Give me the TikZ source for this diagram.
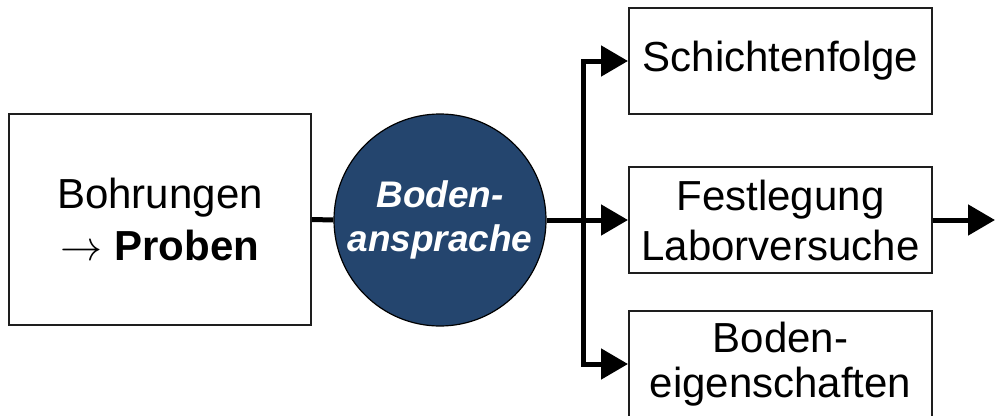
\documentclass[tikz,border=0pt]{standalone}
\usepackage{fix-cm}
\usepackage{fontspec}
\setmainfont{Liberation Sans}
\usetikzlibrary{arrows.meta}
\definecolor{circblue}{RGB}{36,69,110}
\definecolor{boxline}{RGB}{30,30,30}
\begin{document}
\begin{tikzpicture}[x=1pt,y=-1pt,
  box/.style={draw=boxline,line width=2pt,fill=white,minimum width=303pt,minimum height=106pt,
    align=center,font=\fontsize{42}{50}\selectfont,inner sep=0pt},
  conn/.style={line width=5pt},
  arr/.style={line width=5pt,-{Triangle[length=27pt,width=30pt]}}]
\useasboundingbox (0,0) rectangle (995,415);
\clip (0,0) rectangle (995,415);
\node[box,minimum width=302pt,minimum height=211pt] (bohr) at (160,219.5) {Bohrungen\\[2pt]$\rightarrow$ \textbf{Proben}};
\node[circle,draw=black,line width=1.2pt,fill=circblue,minimum size=212pt,inner sep=0pt,
  align=center,text=white,font=\fontsize{37}{44}\selectfont\bfseries\itshape] (circ) at (440,220) {Boden-\\ansprache};
\node[box] (schicht) at (780.5,61) {Schichtenfolge};
\node[box] (fest) at (780.5,220) {Festlegung\\Laborversuche};
\node[box] (eig) at (780.5,364) {Boden-\\[-5pt]eigenschaften};
\coordinate (j) at (583,220);
\coordinate (out) at (995,220);
\draw[conn] (bohr.east) -- (circ.west);
\draw[arr] (circ.east) -- (fest.west);
\draw[arr] (j) |- (schicht.west);
\draw[arr] (j) |- (eig.west);
\draw[arr] (fest.east) -- (out);
\end{tikzpicture}
\end{document}
